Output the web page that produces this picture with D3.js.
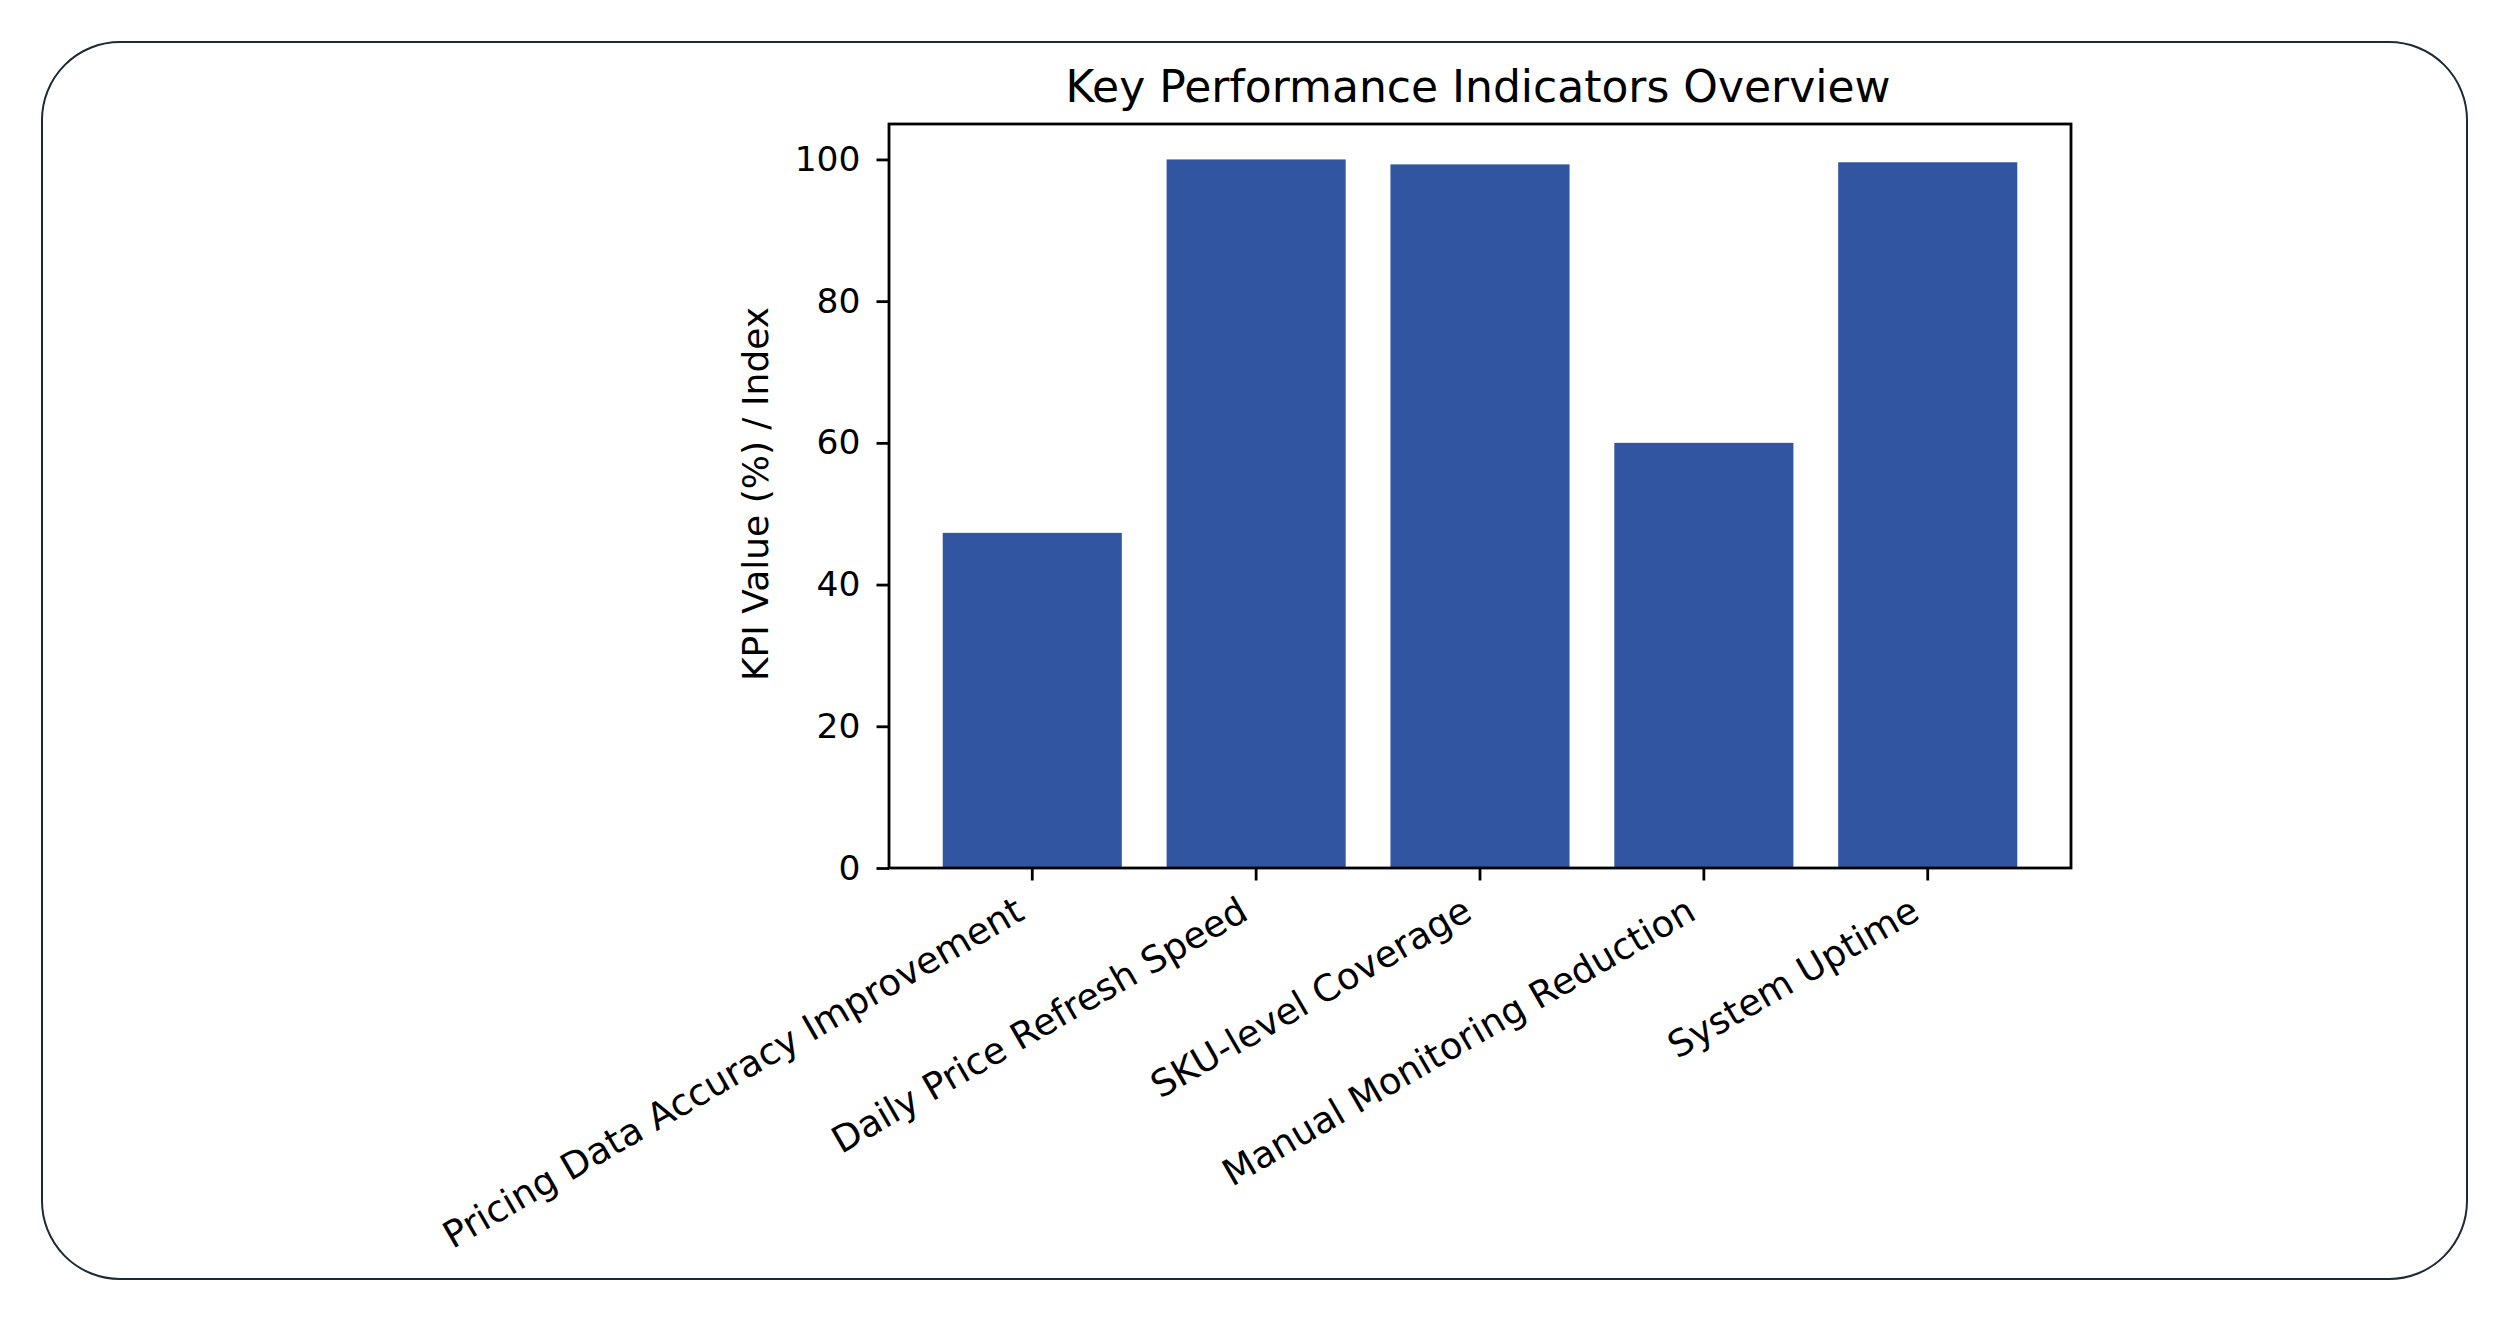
<!DOCTYPE html>
<html>
<head>
<meta charset="utf-8">
<script src="https://cdn.jsdelivr.net/npm/d3@7"></script>
<style>
  html, body { margin: 0; padding: 0; background: #ffffff; }
  svg { display: block; }
  text { font-family: "DejaVu Sans", sans-serif; fill: #000; }
</style>
</head>
<body>
<script>
const categories = [
  "Pricing Data Accuracy Improvement",
  "Daily Price Refresh Speed",
  "SKU-level Coverage",
  "Manual Monitoring Reduction",
  "System Uptime"
];
const kpiValues = [47.3, 100, 99.3, 60, 99.6];
const yTicks = [0, 20, 40, 60, 80, 100];
const chartTitle = "Key Performance Indicators Overview";
const yLabel = "KPI Value (%) / Index";

const W = 2509, H = 1321;
const plot = { left: 889, right: 2071, top: 124, bottom: 868 };

const svg = d3.select("body").append("svg")
  .attr("width", W).attr("height", H);

// outer rounded frame
svg.append("rect")
  .attr("x", 42).attr("y", 42)
  .attr("width", W - 84).attr("height", H - 84)
  .attr("rx", 78).attr("ry", 78)
  .attr("fill", "#ffffff")
  .attr("stroke", "#1c2a36")
  .attr("stroke-width", 2);

const x = d3.scaleBand()
  .domain(categories)
  .range([plot.left, plot.right])
  .paddingInner(0.2)
  .paddingOuter(0.24);

const y = d3.scaleLinear()
  .domain([0, 105])
  .range([plot.bottom, plot.top]);

// bars
svg.append("g").selectAll("rect")
  .data(categories)
  .join("rect")
  .attr("x", d => x(d))
  .attr("width", x.bandwidth())
  .attr("y", (d, i) => y(kpiValues[i]))
  .attr("height", (d, i) => y(0) - y(kpiValues[i]))
  .attr("fill", "#3155a1");

// y axis
const yAxis = svg.append("g")
  .attr("transform", `translate(${plot.left},0)`)
  .call(d3.axisLeft(y).tickValues(yTicks).tickSize(12.5).tickPadding(16).tickFormat(d3.format("d")));
yAxis.select(".domain").remove();
yAxis.selectAll(".tick line").attr("stroke", "#000").attr("stroke-width", 2.8);
yAxis.selectAll(".tick text")
  .attr("font-size", 34.5)
  .attr("font-family", "DejaVu Sans")
  .attr("fill", "#000");

// x axis
const xAxis = svg.append("g")
  .attr("transform", `translate(0,${plot.bottom})`)
  .call(d3.axisBottom(x).tickSize(12.5).tickPadding(0));
xAxis.select(".domain").remove();
xAxis.selectAll(".tick line").attr("stroke", "#000").attr("stroke-width", 2.8);
xAxis.selectAll(".tick text")
  .attr("font-size", 36.8)
  .attr("font-family", "DejaVu Sans")
  .attr("fill", "#000")
  .attr("text-anchor", "end")
  .attr("dy", null)
  .attr("y", null)
  .attr("transform", "translate(-6,50) rotate(-30)");

// frame spines
svg.append("rect")
  .attr("x", plot.left).attr("y", plot.top)
  .attr("width", plot.right - plot.left)
  .attr("height", plot.bottom - plot.top)
  .attr("fill", "none")
  .attr("stroke", "#000")
  .attr("stroke-width", 2.8);

// title
svg.append("text")
  .attr("x", (plot.left + plot.right) / 2 - 2)
  .attr("y", 102)
  .attr("text-anchor", "middle")
  .attr("font-size", 44)
  .text(chartTitle);

// y label
svg.append("text")
  .attr("transform", `translate(768,${(plot.top + plot.bottom) / 2 - 2}) rotate(-90)`)
  .attr("text-anchor", "middle")
  .attr("font-size", 36)
  .text(yLabel);
</script>
</body>
</html>
